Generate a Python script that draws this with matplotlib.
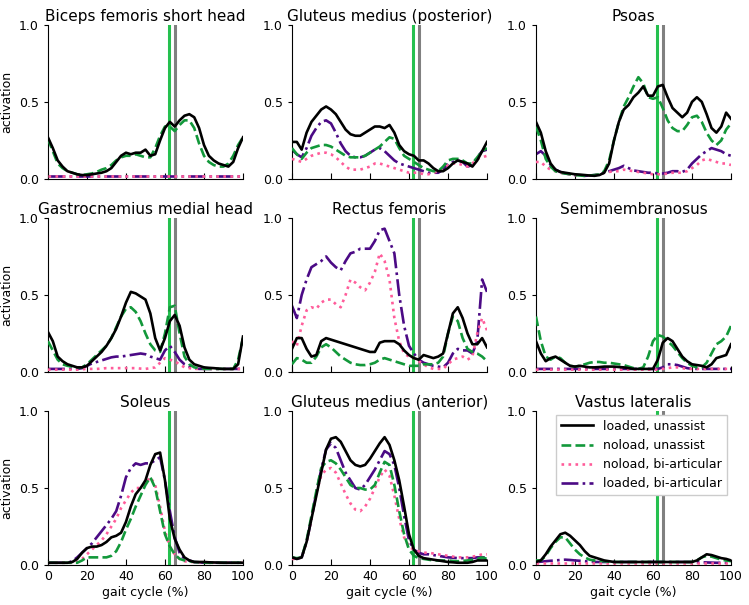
import numpy as np
import matplotlib
matplotlib.use("Agg")
import matplotlib.pyplot as plt

# gait cycle sample points (%), every 2.5 %
gait = np.arange(0, 100.1, 2.5)

titles = ["Biceps femoris short head", "Gluteus medius (posterior)", "Psoas",
          "Gastrocnemius medial head", "Rectus femoris", "Semimembranosus",
          "Soleus", "Gluteus medius (anterior)", "Vastus lateralis"]
conditions = ["loaded, unassist", "noload, unassist",
              "noload, bi-articular", "loaded, bi-articular"]

# events marked with vertical lines (% gait)
toe_off_noload = 62.3
toe_off_loaded = 65.2

# --- biceps femoris short head
bfsh_lu = [0.27, 0.20, 0.12, 0.08, 0.05, 0.04, 0.03, 0.025, 0.025, 0.03,
           0.035, 0.04, 0.05, 0.07, 0.11, 0.15, 0.17, 0.16, 0.17, 0.17,
           0.19, 0.15, 0.16, 0.25, 0.33, 0.37, 0.34, 0.38, 0.41, 0.42,
           0.40, 0.33, 0.22, 0.15, 0.12, 0.10, 0.09, 0.08, 0.11, 0.20, 0.27]
bfsh_nu = [0.26, 0.18, 0.10, 0.07, 0.05, 0.04, 0.03, 0.025, 0.03, 0.035,
           0.045, 0.06, 0.07, 0.09, 0.12, 0.14, 0.15, 0.15, 0.16, 0.15,
           0.14, 0.14, 0.20, 0.28, 0.34, 0.34, 0.31, 0.35, 0.38, 0.38,
           0.33, 0.23, 0.15, 0.11, 0.09, 0.08, 0.08, 0.10, 0.15, 0.22, 0.27]
bfsh_nb = [0.02, 0.02, 0.02, 0.02, 0.02, 0.02, 0.02, 0.02, 0.02, 0.02,
           0.02, 0.02, 0.02, 0.02, 0.02, 0.02, 0.02, 0.02, 0.02, 0.02,
           0.02, 0.02, 0.02, 0.02, 0.02, 0.02, 0.02, 0.02, 0.02, 0.02,
           0.02, 0.02, 0.02, 0.02, 0.02, 0.02, 0.02, 0.02, 0.02, 0.02, 0.02]
bfsh_lb = [0.02, 0.02, 0.02, 0.02, 0.02, 0.02, 0.02, 0.02, 0.02, 0.02,
           0.02, 0.02, 0.02, 0.02, 0.02, 0.02, 0.02, 0.02, 0.02, 0.02,
           0.02, 0.02, 0.02, 0.02, 0.02, 0.02, 0.02, 0.02, 0.02, 0.02,
           0.02, 0.02, 0.02, 0.02, 0.02, 0.02, 0.02, 0.02, 0.02, 0.02, 0.02]

# --- gluteus medius (posterior)
gmp_lu = [0.24, 0.24, 0.19, 0.30, 0.37, 0.41, 0.45, 0.47, 0.45, 0.42,
          0.37, 0.32, 0.29, 0.28, 0.28, 0.30, 0.32, 0.34, 0.34, 0.33,
          0.35, 0.30, 0.22, 0.18, 0.16, 0.15, 0.12, 0.12, 0.10, 0.07,
          0.05, 0.05, 0.07, 0.10, 0.12, 0.11, 0.10, 0.08, 0.12, 0.18, 0.24]
gmp_nu = [0.20, 0.16, 0.13, 0.17, 0.20, 0.21, 0.22, 0.22, 0.21, 0.19,
          0.17, 0.15, 0.14, 0.14, 0.14, 0.15, 0.17, 0.19, 0.21, 0.24,
          0.27, 0.26, 0.20, 0.15, 0.13, 0.11, 0.09, 0.07, 0.06, 0.05,
          0.05, 0.08, 0.12, 0.13, 0.13, 0.12, 0.10, 0.10, 0.14, 0.18, 0.20]
gmp_nb = [0.13, 0.12, 0.11, 0.13, 0.15, 0.16, 0.17, 0.17, 0.16, 0.14,
          0.11, 0.08, 0.06, 0.06, 0.06, 0.07, 0.08, 0.10, 0.10, 0.09,
          0.08, 0.07, 0.06, 0.05, 0.04, 0.04, 0.04, 0.03, 0.03, 0.04,
          0.05, 0.06, 0.09, 0.10, 0.10, 0.09, 0.08, 0.10, 0.13, 0.14, 0.15]
gmp_lb = [0.19, 0.16, 0.14, 0.20, 0.28, 0.33, 0.37, 0.38, 0.36, 0.30,
          0.23, 0.18, 0.15, 0.14, 0.14, 0.15, 0.17, 0.19, 0.20, 0.18,
          0.15, 0.12, 0.10, 0.09, 0.08, 0.07, 0.06, 0.05, 0.04, 0.04,
          0.04, 0.06, 0.10, 0.11, 0.12, 0.11, 0.08, 0.09, 0.14, 0.18, 0.19]

# --- psoas
pso_lu = [0.37, 0.30, 0.18, 0.10, 0.06, 0.045, 0.04, 0.035, 0.03, 0.028,
          0.025, 0.022, 0.02, 0.025, 0.04, 0.10, 0.25, 0.37, 0.45, 0.48,
          0.53, 0.56, 0.60, 0.54, 0.54, 0.60, 0.61, 0.53, 0.46, 0.43,
          0.40, 0.43, 0.50, 0.53, 0.50, 0.42, 0.33, 0.30, 0.34, 0.43, 0.39]
pso_nu = [0.34, 0.25, 0.13, 0.08, 0.05, 0.04, 0.035, 0.03, 0.025, 0.022,
          0.02, 0.022, 0.025, 0.03, 0.05, 0.12, 0.25, 0.37, 0.47, 0.53,
          0.60, 0.66, 0.62, 0.53, 0.52, 0.53, 0.46, 0.38, 0.33, 0.31,
          0.31, 0.35, 0.40, 0.41, 0.37, 0.30, 0.25, 0.22, 0.25, 0.32, 0.36]
pso_nb = [0.11, 0.11, 0.08, 0.06, 0.05, 0.04, 0.035, 0.03, 0.025, 0.022,
          0.02, 0.022, 0.025, 0.03, 0.04, 0.045, 0.05, 0.05, 0.06, 0.055,
          0.05, 0.045, 0.04, 0.035, 0.03, 0.03, 0.03, 0.035, 0.04, 0.04,
          0.04, 0.05, 0.07, 0.09, 0.12, 0.13, 0.12, 0.11, 0.10, 0.10, 0.09]
pso_lb = [0.16, 0.18, 0.15, 0.09, 0.06, 0.045, 0.035, 0.03, 0.025, 0.022,
          0.02, 0.022, 0.025, 0.03, 0.04, 0.05, 0.06, 0.07, 0.085, 0.07,
          0.055, 0.05, 0.045, 0.04, 0.04, 0.035, 0.035, 0.04, 0.05, 0.05,
          0.045, 0.06, 0.10, 0.13, 0.16, 0.18, 0.20, 0.19, 0.18, 0.16, 0.15]

# --- gastrocnemius medial head
gas_lu = [0.26, 0.20, 0.10, 0.07, 0.05, 0.04, 0.03, 0.03, 0.04, 0.07,
          0.10, 0.13, 0.17, 0.22, 0.28, 0.36, 0.45, 0.52, 0.51, 0.49,
          0.47, 0.38, 0.22, 0.14, 0.22, 0.33, 0.37, 0.30, 0.16, 0.08,
          0.05, 0.04, 0.03, 0.027, 0.025, 0.022, 0.02, 0.02, 0.02, 0.05, 0.23]
gas_nu = [0.20, 0.14, 0.08, 0.05, 0.04, 0.035, 0.03, 0.03, 0.05, 0.08,
          0.11, 0.14, 0.17, 0.22, 0.29, 0.36, 0.41, 0.42, 0.39, 0.33,
          0.25, 0.18, 0.14, 0.13, 0.25, 0.42, 0.43, 0.25, 0.10, 0.05,
          0.03, 0.025, 0.02, 0.02, 0.02, 0.02, 0.02, 0.02, 0.02, 0.08, 0.22]
gas_nb = [0.015, 0.015, 0.015, 0.015, 0.015, 0.015, 0.015, 0.018, 0.02, 0.02,
          0.02, 0.022, 0.025, 0.025, 0.025, 0.025, 0.025, 0.025, 0.025, 0.022,
          0.02, 0.025, 0.03, 0.06, 0.09, 0.08, 0.07, 0.05, 0.03, 0.025,
          0.02, 0.02, 0.02, 0.02, 0.02, 0.02, 0.02, 0.02, 0.02, 0.02, 0.02]
gas_lb = [0.02, 0.02, 0.02, 0.02, 0.02, 0.02, 0.02, 0.025, 0.04, 0.055,
          0.065, 0.075, 0.085, 0.095, 0.10, 0.10, 0.105, 0.11, 0.115, 0.12,
          0.115, 0.10, 0.09, 0.08, 0.14, 0.17, 0.13, 0.08, 0.05, 0.035,
          0.025, 0.02, 0.02, 0.02, 0.02, 0.02, 0.02, 0.02, 0.02, 0.02, 0.02]

# --- rectus femoris
rf_lu = [0.15, 0.22, 0.22, 0.15, 0.10, 0.11, 0.20, 0.22, 0.21, 0.20,
         0.19, 0.18, 0.17, 0.16, 0.15, 0.14, 0.13, 0.13, 0.19, 0.20,
         0.20, 0.20, 0.18, 0.14, 0.11, 0.09, 0.08, 0.11, 0.10, 0.09,
         0.10, 0.12, 0.25, 0.38, 0.42, 0.35, 0.25, 0.18, 0.18, 0.22, 0.16]
rf_nu = [0.05, 0.09, 0.08, 0.06, 0.06, 0.10, 0.16, 0.18, 0.16, 0.13,
         0.10, 0.08, 0.06, 0.05, 0.045, 0.045, 0.05, 0.06, 0.08, 0.09,
         0.08, 0.07, 0.06, 0.05, 0.04, 0.04, 0.04, 0.05, 0.05, 0.05,
         0.06, 0.10, 0.25, 0.36, 0.33, 0.22, 0.15, 0.13, 0.12, 0.10, 0.07]
rf_nb = [0.20, 0.17, 0.30, 0.40, 0.42, 0.41, 0.45, 0.47, 0.47, 0.44,
         0.42, 0.50, 0.60, 0.58, 0.55, 0.53, 0.58, 0.65, 0.77, 0.72,
         0.60, 0.35, 0.20, 0.12, 0.10, 0.09, 0.07, 0.05, 0.03, 0.02,
         0.02, 0.02, 0.05, 0.08, 0.09, 0.10, 0.08, 0.10, 0.25, 0.35, 0.27]
rf_lb = [0.43, 0.35, 0.50, 0.60, 0.68, 0.70, 0.72, 0.75, 0.71, 0.68,
         0.66, 0.72, 0.77, 0.78, 0.80, 0.80, 0.80, 0.85, 0.92, 0.93,
         0.85, 0.77, 0.50, 0.30, 0.17, 0.12, 0.08, 0.06, 0.05, 0.04,
         0.035, 0.03, 0.06, 0.12, 0.15, 0.14, 0.14, 0.12, 0.20, 0.60, 0.52]

# --- semimembranosus
sm_lu = [0.20, 0.12, 0.07, 0.09, 0.10, 0.08, 0.06, 0.04, 0.035, 0.04,
         0.035, 0.03, 0.03, 0.032, 0.035, 0.035, 0.035, 0.032, 0.03, 0.025,
         0.02, 0.02, 0.02, 0.02, 0.02, 0.08, 0.19, 0.22, 0.20, 0.15,
         0.10, 0.07, 0.05, 0.045, 0.04, 0.03, 0.05, 0.09, 0.10, 0.11, 0.18]
sm_nu = [0.36, 0.20, 0.10, 0.08, 0.10, 0.09, 0.06, 0.04, 0.035, 0.04,
         0.05, 0.06, 0.065, 0.065, 0.06, 0.06, 0.055, 0.05, 0.045, 0.035,
         0.025, 0.02, 0.03, 0.10, 0.20, 0.24, 0.23, 0.20, 0.17, 0.13,
         0.09, 0.06, 0.04, 0.03, 0.03, 0.06, 0.12, 0.18, 0.20, 0.23, 0.30]
sm_nb = [0.015, 0.015, 0.015, 0.015, 0.015, 0.015, 0.015, 0.015, 0.015, 0.015,
         0.015, 0.015, 0.015, 0.015, 0.015, 0.015, 0.015, 0.015, 0.015, 0.015,
         0.015, 0.015, 0.015, 0.015, 0.015, 0.015, 0.02, 0.025, 0.03, 0.03,
         0.025, 0.02, 0.02, 0.02, 0.02, 0.02, 0.02, 0.02, 0.02, 0.02, 0.02]
sm_lb = [0.02, 0.02, 0.02, 0.02, 0.02, 0.02, 0.02, 0.02, 0.02, 0.02,
         0.02, 0.02, 0.02, 0.02, 0.02, 0.02, 0.02, 0.02, 0.02, 0.02,
         0.02, 0.02, 0.02, 0.02, 0.02, 0.02, 0.03, 0.05, 0.05, 0.045,
         0.035, 0.025, 0.02, 0.02, 0.02, 0.02, 0.02, 0.02, 0.02, 0.02, 0.02]

# --- soleus
sol_lu = [0.015, 0.015, 0.015, 0.015, 0.015, 0.02, 0.04, 0.08, 0.11, 0.12,
          0.12, 0.13, 0.15, 0.18, 0.19, 0.21, 0.28, 0.38, 0.46, 0.50,
          0.55, 0.65, 0.72, 0.73, 0.55, 0.30, 0.17, 0.10, 0.05, 0.03,
          0.02, 0.02, 0.02, 0.018, 0.017, 0.016, 0.015, 0.015, 0.015, 0.015, 0.015]
sol_nu = [0.015, 0.015, 0.015, 0.015, 0.015, 0.015, 0.015, 0.03, 0.05, 0.05,
          0.05, 0.05, 0.05, 0.06, 0.09, 0.15, 0.23, 0.30, 0.38, 0.45,
          0.52, 0.57, 0.50, 0.35, 0.20, 0.12, 0.07, 0.04, 0.03, 0.025,
          0.02, 0.018, 0.015, 0.015, 0.015, 0.015, 0.015, 0.015, 0.015, 0.015, 0.015]
sol_nb = [0.015, 0.015, 0.015, 0.015, 0.015, 0.015, 0.02, 0.04, 0.07, 0.10,
          0.13, 0.16, 0.20, 0.25, 0.30, 0.37, 0.42, 0.47, 0.50, 0.50,
          0.53, 0.57, 0.52, 0.38, 0.22, 0.12, 0.07, 0.04, 0.025, 0.02,
          0.02, 0.018, 0.015, 0.015, 0.015, 0.015, 0.015, 0.015, 0.015, 0.015, 0.015]
sol_lb = [0.015, 0.015, 0.015, 0.015, 0.015, 0.025, 0.05, 0.08, 0.11, 0.14,
          0.18, 0.22, 0.26, 0.30, 0.35, 0.45, 0.57, 0.63, 0.66, 0.65,
          0.66, 0.66, 0.68, 0.70, 0.55, 0.35, 0.18, 0.08, 0.04, 0.03,
          0.02, 0.018, 0.015, 0.015, 0.015, 0.015, 0.015, 0.015, 0.015, 0.015, 0.015]

# --- gluteus medius (anterior)
gma_lu = [0.05, 0.04, 0.05, 0.15, 0.30, 0.45, 0.60, 0.75, 0.82, 0.83,
          0.80, 0.74, 0.68, 0.65, 0.64, 0.65, 0.69, 0.74, 0.79, 0.83,
          0.78, 0.68, 0.55, 0.38, 0.20, 0.10, 0.06, 0.045, 0.04, 0.035,
          0.03, 0.025, 0.02, 0.018, 0.015, 0.015, 0.015, 0.02, 0.03, 0.03, 0.03]
gma_nu = [0.05, 0.045, 0.05, 0.16, 0.32, 0.48, 0.63, 0.67, 0.68, 0.66,
          0.62, 0.57, 0.52, 0.50, 0.50, 0.49, 0.49, 0.52, 0.60, 0.67,
          0.65, 0.52, 0.35, 0.20, 0.10, 0.06, 0.045, 0.04, 0.035, 0.03,
          0.03, 0.03, 0.03, 0.027, 0.025, 0.027, 0.03, 0.035, 0.04, 0.05, 0.04]
gma_nb = [0.04, 0.04, 0.05, 0.15, 0.30, 0.47, 0.58, 0.62, 0.63, 0.60,
          0.53, 0.46, 0.40, 0.36, 0.35, 0.38, 0.43, 0.50, 0.57, 0.62,
          0.58, 0.45, 0.30, 0.18, 0.12, 0.10, 0.09, 0.08, 0.08, 0.075,
          0.07, 0.065, 0.06, 0.055, 0.05, 0.05, 0.05, 0.055, 0.06, 0.07, 0.07]
gma_lb = [0.05, 0.04, 0.05, 0.15, 0.30, 0.47, 0.62, 0.75, 0.79, 0.76,
          0.68, 0.60, 0.55, 0.50, 0.49, 0.52, 0.57, 0.62, 0.68, 0.74,
          0.72, 0.65, 0.50, 0.32, 0.16, 0.10, 0.08, 0.07, 0.07, 0.065,
          0.06, 0.055, 0.05, 0.048, 0.045, 0.045, 0.045, 0.045, 0.05, 0.05, 0.05]

# --- vastus lateralis
vl_lu = [0.02, 0.03, 0.07, 0.12, 0.16, 0.20, 0.21, 0.19, 0.16, 0.13,
         0.09, 0.06, 0.05, 0.04, 0.03, 0.025, 0.02, 0.02, 0.02, 0.02,
         0.02, 0.02, 0.02, 0.02, 0.02, 0.02, 0.02, 0.02, 0.02, 0.02,
         0.02, 0.02, 0.02, 0.03, 0.05, 0.07, 0.065, 0.055, 0.045, 0.04, 0.03]
vl_nu = [0.03, 0.03, 0.06, 0.11, 0.15, 0.18, 0.18, 0.14, 0.10, 0.07,
         0.05, 0.035, 0.03, 0.027, 0.025, 0.022, 0.02, 0.02, 0.02, 0.02,
         0.02, 0.02, 0.02, 0.02, 0.02, 0.02, 0.02, 0.02, 0.02, 0.02,
         0.02, 0.02, 0.02, 0.03, 0.05, 0.06, 0.055, 0.045, 0.035, 0.03, 0.025]
vl_nb = [0.015, 0.015, 0.015, 0.015, 0.015, 0.015, 0.015, 0.015, 0.015, 0.015,
         0.015, 0.015, 0.015, 0.015, 0.015, 0.015, 0.015, 0.015, 0.015, 0.015,
         0.015, 0.015, 0.015, 0.015, 0.015, 0.015, 0.015, 0.015, 0.015, 0.015,
         0.015, 0.015, 0.015, 0.015, 0.015, 0.015, 0.015, 0.015, 0.015, 0.015, 0.015]
vl_lb = [0.02, 0.022, 0.025, 0.028, 0.03, 0.033, 0.035, 0.033, 0.03, 0.028,
         0.025, 0.022, 0.02, 0.02, 0.02, 0.02, 0.02, 0.02, 0.02, 0.02,
         0.02, 0.02, 0.02, 0.02, 0.02, 0.02, 0.02, 0.02, 0.02, 0.02,
         0.02, 0.02, 0.02, 0.018, 0.018, 0.017, 0.016, 0.015, 0.015, 0.015, 0.015]

muscles = [
    (bfsh_lu, bfsh_nu, bfsh_nb, bfsh_lb),
    (gmp_lu, gmp_nu, gmp_nb, gmp_lb),
    (pso_lu, pso_nu, pso_nb, pso_lb),
    (gas_lu, gas_nu, gas_nb, gas_lb),
    (rf_lu, rf_nu, rf_nb, rf_lb),
    (sm_lu, sm_nu, sm_nb, sm_lb),
    (sol_lu, sol_nu, sol_nb, sol_lb),
    (gma_lu, gma_nu, gma_nb, gma_lb),
    (vl_lu, vl_nu, vl_nb, vl_lb),
]

colors = ["black", "#12983a", "#ff5c9a", "#4b0a85"]
styles = ["-", "--", ":", "-."]

plt.rcParams["font.family"] = ["DejaVu Sans"]
fig, axes = plt.subplots(3, 3, figsize=(7.49, 6.05), dpi=100)
fig.subplots_adjust(left=0.064, right=0.976, top=0.959, bottom=0.066,
                    wspace=0.251, hspace=0.253)

for i, ax in enumerate(axes.flat):
    ax.axvline(toe_off_noload, color="#25c04f", lw=2.2, zorder=1)
    ax.axvline(toe_off_loaded, color="#808080", lw=2.2, zorder=1)
    # bi-articular lines first so the unassisted ones sit on top
    for k in [3, 2, 1, 0]:
        ax.plot(gait, muscles[i][k], color=colors[k], ls=styles[k], lw=1.9,
                label=conditions[k], zorder=2 + (3 - k))
    ax.set_xlim(0, 100)
    ax.set_ylim(0, 1)
    ax.set_title(titles[i], fontsize=11, pad=3)
    ax.spines["top"].set_visible(False)
    ax.spines["right"].set_visible(False)
    ax.set_yticks([0, 0.5, 1.0])
    ax.set_xticks([0, 20, 40, 60, 80, 100])
    ax.tick_params(axis="x", direction="in", length=4, labelsize=9)
    ax.tick_params(axis="y", direction="out", length=3, labelsize=9)
    if i % 3 == 0:
        ax.set_ylabel("activation", fontsize=9)
    if i >= 6:
        ax.set_xlabel("gait cycle (%)", fontsize=9, labelpad=2)
    else:
        ax.tick_params(axis="x", labelbottom=False)

handles, labels = axes[2, 2].get_legend_handles_labels()
handles, labels = handles[::-1], labels[::-1]
axes[2, 2].legend(handles, labels, loc="upper right", fontsize=9,
                  fancybox=False, framealpha=1, handlelength=2.6,
                  borderaxespad=0.3)

fig.savefig("out.png", dpi=100)
